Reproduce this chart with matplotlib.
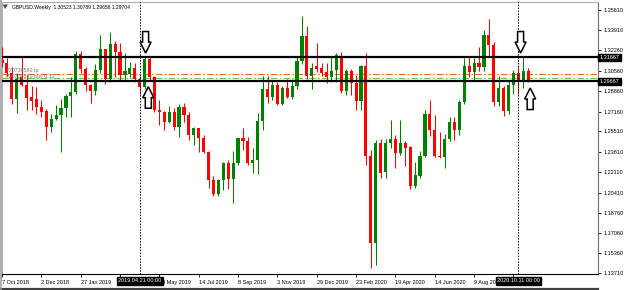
import matplotlib
matplotlib.use("Agg")
import matplotlib.pyplot as plt
import pandas as pd
from matplotlib.patches import Polygon
from matplotlib.transforms import blended_transform_factory
from matplotlib.lines import Line2D

plt.rcParams['font.family'] = ['Liberation Sans', 'DejaVu Sans']

# GBPUSD weekly candles, first bar is the week of 7 Oct 2018
opens = [1.3145, 1.3124, 1.3041, 1.2820, 1.3000, 1.2937, 1.2835, 1.2820, 1.2751, 1.2723,
         1.2585, 1.2654, 1.2687, 1.2744, 1.2845, 1.2875, 1.3196, 1.3070, 1.2937, 1.2885,
         1.3060, 1.3235, 1.2985, 1.3275, 1.3210, 1.3020, 1.3030, 1.3080, 1.2984, 1.2922,
         1.3150, 1.3005, 1.2730, 1.2715, 1.2633, 1.2716, 1.2590, 1.2751, 1.2690, 1.2521,
         1.2577, 1.2495, 1.2380, 1.2147, 1.2030, 1.2150, 1.2290, 1.2155, 1.2285, 1.2499,
         1.2470, 1.2290, 1.2310, 1.2640, 1.2900, 1.2838, 1.2935, 1.2780, 1.2910, 1.2840,
         1.2930, 1.3140, 1.3345, 1.3010, 1.3095, 1.3076, 1.3048, 1.3006, 1.3062, 1.3178,
         1.2887, 1.3054, 1.2956, 1.2804, 1.3095, 1.2350, 1.1620, 1.2452, 1.2216, 1.2457,
         1.2485, 1.2369, 1.2452, 1.2424, 1.2100, 1.2180, 1.2346, 1.2700, 1.2560, 1.2345,
         1.2335, 1.2485, 1.2630, 1.2563, 1.2798, 1.3095, 1.3048, 1.3117, 1.3089, 1.3353,
         1.3270, 1.2795, 1.2915, 1.2720, 1.2935, 1.3034, 1.2960, 1.30523]
highs = [1.3250, 1.3160, 1.3090, 1.3040, 1.3172, 1.3020, 1.2930, 1.2923, 1.2812, 1.2735,
         1.2700, 1.2771, 1.2818, 1.2866, 1.3000, 1.3218, 1.3218, 1.3088, 1.2945, 1.3110,
         1.3350, 1.3240, 1.3381, 1.3300, 1.3290, 1.3200, 1.3130, 1.3120, 1.3010, 1.3178,
         1.3176, 1.3010, 1.2813, 1.2720, 1.2764, 1.2749, 1.2783, 1.2784, 1.2710, 1.2586,
         1.2582, 1.2520, 1.2385, 1.2180, 1.2155, 1.2299, 1.2310, 1.2385, 1.2500, 1.2583,
         1.2505, 1.2410, 1.2707, 1.3013, 1.3012, 1.2975, 1.2965, 1.2930, 1.2985, 1.2985,
         1.3175, 1.3514, 1.3430, 1.3118, 1.3284, 1.3117, 1.3123, 1.3172, 1.3206, 1.3210,
         1.3070, 1.3070, 1.3020, 1.3100, 1.3200, 1.2400, 1.2480, 1.2485, 1.2485, 1.2646,
         1.2520, 1.2646, 1.2475, 1.2430, 1.2299, 1.2385, 1.2729, 1.2813, 1.2687, 1.2545,
         1.2531, 1.2668, 1.2669, 1.2815, 1.3159, 1.3167, 1.3160, 1.3256, 1.3395, 1.3482,
         1.3295, 1.3008, 1.2928, 1.2975, 1.3063, 1.3083, 1.3177, 1.30789]
lows = [1.3087, 1.3010, 1.2776, 1.2704, 1.2925, 1.2729, 1.2729, 1.2700, 1.2673, 1.2479,
        1.2550, 1.2646, 1.2382, 1.2670, 1.2673, 1.2865, 1.3036, 1.2885, 1.2787, 1.2853,
        1.3040, 1.2945, 1.2960, 1.3004, 1.2977, 1.2976, 1.3000, 1.2960, 1.2866, 1.2900,
        1.2967, 1.2715, 1.2605, 1.2560, 1.2620, 1.2560, 1.2506, 1.2630, 1.2480, 1.2439,
        1.2382, 1.2375, 1.2080, 1.2015, 1.2015, 1.2063, 1.2070, 1.1959, 1.2275, 1.2396,
        1.2270, 1.2205, 1.2195, 1.2560, 1.2790, 1.2810, 1.2770, 1.2770, 1.2825, 1.2820,
        1.2905, 1.3110, 1.2990, 1.2905, 1.3045, 1.3014, 1.2956, 1.2964, 1.2965, 1.2870,
        1.2850, 1.2854, 1.2729, 1.2729, 1.2272, 1.1412, 1.1440, 1.2166, 1.2161, 1.2410,
        1.2244, 1.2355, 1.2263, 1.2075, 1.2077, 1.2160, 1.2335, 1.2510, 1.2340, 1.2330,
        1.2251, 1.2470, 1.2480, 1.2525, 1.2780, 1.3006, 1.2982, 1.3055, 1.3052, 1.3175,
        1.2762, 1.2765, 1.2676, 1.2700, 1.2865, 1.2863, 1.2915, 1.29658]
closes = [1.3120, 1.3041, 1.2820, 1.2990, 1.2940, 1.2826, 1.2806, 1.2751, 1.2715, 1.2585,
          1.2654, 1.2687, 1.2744, 1.2845, 1.2875, 1.3196, 1.3070, 1.2937, 1.2885, 1.3060,
          1.3235, 1.2985, 1.3275, 1.3210, 1.3020, 1.3050, 1.3080, 1.2984, 1.2922, 1.3150,
          1.3005, 1.2730, 1.2715, 1.2633, 1.2716, 1.2590, 1.2751, 1.2690, 1.2521, 1.2577,
          1.2495, 1.2380, 1.2147, 1.2030, 1.2150, 1.2290, 1.2155, 1.2285, 1.2499, 1.2470,
          1.2290, 1.2310, 1.2640, 1.2900, 1.2838, 1.2935, 1.2780, 1.2910, 1.2840, 1.2930,
          1.3140, 1.3345, 1.3010, 1.3075, 1.3067, 1.3040, 1.3006, 1.3056, 1.3187, 1.2887,
          1.3054, 1.2951, 1.2804, 1.3095, 1.2350, 1.1620, 1.2452, 1.2208, 1.2457, 1.2485,
          1.2369, 1.2452, 1.2416, 1.2100, 1.2188, 1.2346, 1.2700, 1.2560, 1.2345, 1.2335,
          1.2485, 1.2630, 1.2563, 1.2798, 1.3095, 1.3048, 1.3117, 1.3089, 1.3353, 1.3270,
          1.2795, 1.2915, 1.2720, 1.2935, 1.3034, 1.2960, 1.3052, 1.29704]

first_week = pd.Timestamp("2018-10-07")
tick_weeks = [0, 8, 16, 24, 32, 40, 48, 56, 64, 72, 80, 88, 96, 104]
# labels at weeks 24 and 104 sit under the date boxes in the terminal, so they stay blank
tick_labels = ["7 Oct 2018", "2 Dec 2018", "27 Jan 2019", "", "19 May 2019",
               "14 Jul 2019", "8 Sep 2019", "3 Nov 2019", "29 Dec 2019", "23 Feb 2020",
               "19 Apr 2020", "14 Jun 2020", "9 Aug 2020", ""]
price_ticks = [1.35610, 1.33910, 1.32260, 1.30560, 1.28860, 1.27160, 1.25510,
               1.23810, 1.22110, 1.20410, 1.18760, 1.17060, 1.15360, 1.13710]
levels = [1.31667, 1.29667]
tp_price = 1.3028
buy_price = 1.2998
marked_dates = ["2019.04.21 00:00", "2020.10.11 00:00"]
# (week, price of tip, direction)
arrows = [(29.2, 1.3203, "down"), (105.45, 1.3203, "down"),
          (29.75, 1.2923, "up"), (107.4, 1.2912, "up")]

W, H = 625, 290
fig = plt.figure(figsize=(W / 100, H / 100), dpi=100)
ax = fig.add_axes([2 / W, 16 / H, 596 / W, 272 / H])

px_week = 4.922
px_price = 0.0008317
ax.set_xlim((2 - 1.5) / px_week, (598 - 1.5) / px_week)
ax.set_ylim(1.35610 - 264 * px_price, 1.35610 + 8 * px_price)

for k in range(len(opens)):
    o, h, l, c = opens[k], highs[k], lows[k], closes[k]
    col = "#008000" if c >= o else "#ff0000"
    ax.vlines(k, l, h, color=col, lw=0.75, zorder=3)
    ax.bar(k, max(abs(c - o), 0.00012), bottom=min(o, c), width=0.64,
           color=col, linewidth=0, zorder=3)

for lv in levels:
    ax.axhline(lv, color="black", lw=1.6, zorder=4)
ax.axhline(tp_price, color="#ff6a1a", lw=0.8, ls=(0, (6, 2, 1.5, 2)), zorder=2)
ax.axhline(buy_price, color="#6cc36c", lw=0.8, ls=(0, (6, 2, 1.5, 2)), zorder=2)
ax.text(0.9, 1.3056, "#20736580 tp", fontsize=3.8, color="#707070", va="center", zorder=5)
ax.text(0.9, 1.3008, "#20736580 buy 0.12", fontsize=3.8, color="#707070", va="center", zorder=5)

bt = blended_transform_factory(ax.transData, fig.transFigure)
for d in marked_dates:
    wk = (pd.Timestamp(d[:10].replace(".", "-")) - first_week).days // 7
    ax.axvline(wk, color="black", lw=0.7, ls=(0, (1.5, 1.5)), zorder=4)
    ax.text(wk, 9 / H, d, transform=bt, fontsize=4, color="white", ha="center", va="center",
            zorder=10, clip_on=False,
            bbox=dict(boxstyle="square,pad=0.25", fc="black", ec="black"))

for wk, p, direc in arrows:
    s = -1 if direc == "down" else 1
    pts = [(0, 0), (5.5, 11), (3, 11), (3, 21.5), (-3, 21.5), (-3, 11), (-5.5, 11)]
    xy = [(wk + dx / px_week, p - s * dy * px_price) for dx, dy in pts]
    ax.add_patch(Polygon(xy, closed=True, fc="white", ec="black", lw=1.1, zorder=6))

# right price scale
ax.yaxis.tick_right()
ax.set_yticks(price_ticks)
ax.set_yticklabels([f"{v:.5f}" for v in price_ticks])
ax.tick_params(axis="y", labelsize=4, length=2.5, width=0.6, pad=1.5, colors="black")
rt = blended_transform_factory(ax.transAxes, ax.transData)
for lv in levels:
    ax.text(1.003, lv, f"{lv:.5f}", transform=rt, fontsize=4, color="white", va="center",
            ha="left", zorder=10, clip_on=False,
            bbox=dict(boxstyle="square,pad=0.25", fc="black", ec="black"))

ax.set_xticks(tick_weeks)
ax.set_xticklabels(tick_labels, ha="left")
ax.tick_params(axis="x", labelsize=4, length=2.5, width=0.6, pad=2)

for side in ["top", "left"]:
    ax.spines[side].set_color("#b0b0b0")
ax.spines["bottom"].set_color("black")
ax.spines["right"].set_color("#707070")
for sp in ax.spines.values():
    sp.set_linewidth(0.8)

fig.text(11.7 / W, 1 - 7.5 / H, "GBPUSD,Weekly  1.30523 1.30789 1.29658 1.29704",
         fontsize=3.6, va="center", ha="left", color="black")
fig.patches.append(Polygon([(2.5 / W, 1 - 4.5 / H), (8 / W, 1 - 4.5 / H), (5.2 / W, 1 - 9 / H)],
                           closed=True, transform=fig.transFigure, fc="#505050", ec="none"))
fig.lines.append(Line2D([0, 598 / W], [1.5 / H, 1.5 / H], transform=fig.transFigure,
                        color="#404040", lw=1.6))
fig.lines.append(Line2D([0.8 / W, 0.8 / W], [1.5 / H, 1], transform=fig.transFigure,
                        color="#a0a0a0", lw=1.2))

fig.savefig("out.png", dpi=100)
